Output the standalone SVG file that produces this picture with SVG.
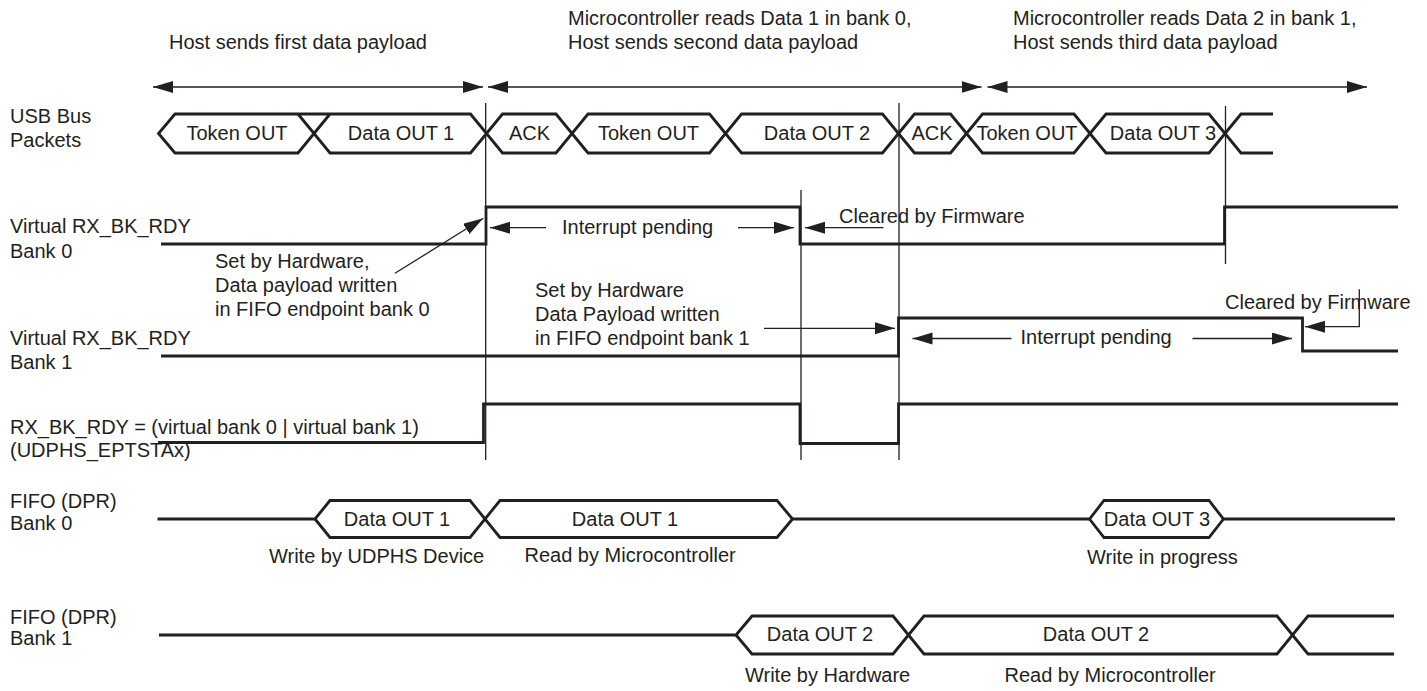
<svg xmlns="http://www.w3.org/2000/svg" width="1427" height="691" viewBox="0 0 1427 691">
<style>
text{font-family:"Liberation Sans",Arial,sans-serif;font-size:20px;fill:#231f20}
.c{text-anchor:middle}
.sig{fill:none;stroke:#231f20;stroke-width:2.8;stroke-linejoin:miter}
.thin{fill:none;stroke:#231f20;stroke-width:1.3}
.arr{fill:none;stroke:#231f20;stroke-width:1.3;marker-end:url(#ah)}
.arr2{fill:none;stroke:#231f20;stroke-width:1.3;marker-end:url(#ah);marker-start:url(#ah)}
</style>
<defs>
<marker id="ah" markerUnits="userSpaceOnUse" markerWidth="22" markerHeight="14" refX="20" refY="6" orient="auto-start-reverse">
<path d="M0,0 L20,6 L0,12 z" fill="#231f20"/>
</marker>
</defs>
<rect width="1427" height="691" fill="#fff"/>

<g id="titles">
<text x="169" y="48.5">Host sends first data payload</text>
<text x="568" y="25">Microcontroller reads Data 1 in bank 0,</text>
<text x="568" y="49">Host sends second data payload</text>
<text x="1013" y="25">Microcontroller reads Data 2 in bank 1,</text>
<text x="1013" y="49">Host sends third data payload</text>
</g>

<g id="usb-bus">
<text x="10" y="123">USB Bus</text>
<text x="10" y="147">Packets</text>
<path class="sig" d="M330,114 L298,114 L282,114 L175,114 L158.5,133.5 L175,153 L298,153 L330,114 L470.5,114 L502.5,153 L556,153 L588,114 L709.5,114 L741.5,153 L882.5,153 L914.5,114 L950.5,114 L982.5,153 L1074,153 L1106,114 L1209,114 L1241,153 L1273,153"/>
<path class="sig" d="M298,114 L330,153 L470.5,153 L502.5,114 L556,114 L588,153 L709.5,153 L741.5,114 L882.5,114 L914.5,153 L950.5,153 L982.5,114 L1074,114 L1106,153 L1209,153 L1241,114 L1273,114"/>
<text class="c" x="237" y="140">Token OUT</text>
<text class="c" x="401" y="140">Data OUT 1</text>
<text class="c" x="529.5" y="140">ACK</text>
<text class="c" x="648.5" y="140">Token OUT</text>
<text class="c" x="817" y="140">Data OUT 2</text>
<text class="c" x="932" y="140">ACK</text>
<text class="c" x="1027" y="140">Token OUT</text>
<text class="c" x="1163" y="140">Data OUT 3</text>
</g>

<g id="bank0">
<text x="10" y="233">Virtual RX_BK_RDY</text>
<text x="10" y="257.5">Bank 0</text>
<path class="sig" d="M161,244 L486,244 L486,207 L800,207 L800,244 L1224.5,244 L1224.5,207 L1398,207"/>
<text x="562" y="233.5">Interrupt pending</text>
<text x="839" y="223">Cleared by Firmware</text>
<text x="215" y="268">Set by Hardware,</text>
<text x="215" y="292">Data payload written</text>
<text x="215" y="316">in FIFO endpoint bank 0</text>
</g>

<g id="bank1">
<text x="10" y="345">Virtual RX_BK_RDY</text>
<text x="10" y="368.5">Bank 1</text>
<path class="sig" d="M161,356 L898.5,356 L898.5,318 L1302.5,318 L1302.5,351 L1398,351"/>
<text x="535" y="297">Set by Hardware</text>
<text x="535" y="320.5">Data Payload written</text>
<text x="535" y="344.5">in FIFO endpoint bank 1</text>
<text x="1020.5" y="343.5">Interrupt pending</text>
<text x="1225" y="308.5">Cleared by Firmware</text>
</g>

<g id="rx-bk-rdy">
<text x="10" y="433.5">RX_BK_RDY = (virtual bank 0 | virtual bank 1)</text>
<text x="10" y="457">(UDPHS_EPTSTAx)</text>
<path class="sig" d="M158,442.5 L483.5,442.5 L483.5,404 L800,404 L800,443.5 L898.5,443.5 L898.5,404 L1398,404"/>
</g>

<g id="fifo-bank0">
<text x="10" y="508">FIFO (DPR)</text>
<text x="10" y="529.5">Bank 0</text>
<path class="sig" d="M157.5,519 L315,519 L330,500.5 L470,500.5 L500,537.5 L777,537.5 L792.5,519 L1089.5,519 L1104,500.5 L1209,500.5 L1223.5,519 L1395,519"/>
<path class="sig" d="M315,519 L330,537.5 L470,537.5 L500,500.5 L777,500.5 L792.5,519 M1089.5,519 L1104,537.5 L1209,537.5 L1223.5,519"/>
<text class="c" x="397" y="526">Data OUT 1</text>
<text class="c" x="625" y="526">Data OUT 1</text>
<text class="c" x="1157" y="526">Data OUT 3</text>
<text x="269" y="562.5">Write by UDPHS Device</text>
<text x="524.5" y="562">Read by Microcontroller</text>
<text x="1087" y="563.5">Write in progress</text>
</g>

<g id="fifo-bank1">
<text x="10" y="624">FIFO (DPR)</text>
<text x="10" y="644.5">Bank 1</text>
<path class="sig" d="M159,635 L736,635 L752,616 L893,616 L924,654 L1277,654 L1308,616 L1394,616"/>
<path class="sig" d="M736,635 L752,654 L893,654 L924,616 L1277,616 L1308,654 L1394,654"/>
<text class="c" x="820" y="641">Data OUT 2</text>
<text class="c" x="1096" y="641">Data OUT 2</text>
<text x="745" y="682">Write by Hardware</text>
<text x="1004.5" y="682">Read by Microcontroller</text>
</g>

<g id="connectors">
<line class="thin" x1="485.7" y1="103" x2="485.7" y2="460"/>
<line class="thin" x1="801" y1="190" x2="801" y2="460"/>
<line class="thin" x1="899" y1="103" x2="899" y2="460"/>
<line class="thin" x1="1225.5" y1="106" x2="1225.5" y2="264"/>
<line class="arr2" x1="153" y1="87" x2="483" y2="87"/>
<line class="arr2" x1="488" y1="87" x2="981.5" y2="87"/>
<line class="arr2" x1="987.5" y1="87" x2="1367" y2="87"/>
<line class="arr" x1="546" y1="227.7" x2="490" y2="227.7"/>
<line class="arr" x1="738" y1="227.7" x2="794" y2="227.7"/>
<line class="arr" x1="883.5" y1="227.7" x2="805" y2="227.7"/>
<line class="arr" x1="395" y1="273.3" x2="483.3" y2="218.3"/>
<line class="arr" x1="764" y1="328.3" x2="895" y2="328.3"/>
<line class="arr" x1="1011.5" y1="338.5" x2="912.5" y2="338.5"/>
<line class="arr" x1="1192.5" y1="338.5" x2="1292" y2="338.5"/>
<polyline class="arr" points="1359.3,289.3 1359.3,326.7 1305,326.7"/>
</g>
</svg>
